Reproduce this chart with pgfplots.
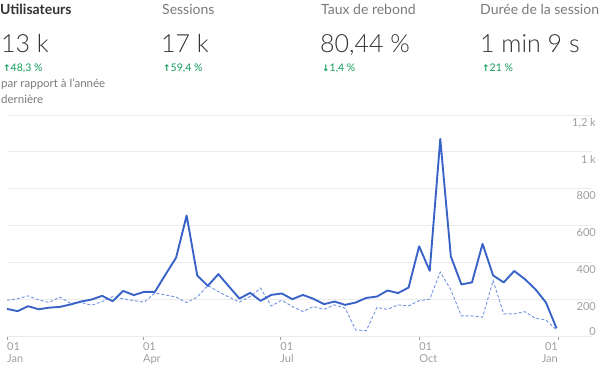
\documentclass[border=0pt]{standalone}
\usepackage{fontspec}
\setmainfont{Lato}
\newfontfamily\lightfont{Lato}[UprightFont={* Light}]
\newfontfamily\dejavu{DejaVu Sans}
\usepackage{pgfplots}
\pgfplotsset{compat=1.18}
\definecolor{solidblue}{HTML}{3A63C8}
\definecolor{dashblue}{HTML}{6E93E0}
\definecolor{gridc}{HTML}{EBEBEB}
\definecolor{lbl}{HTML}{9E9E9E}
\definecolor{hdr}{HTML}{7A7A7A}
\definecolor{dark}{HTML}{333333}
\definecolor{gr}{HTML}{0F9D58}
\begin{document}
\begin{tikzpicture}[x=1pt,y=1pt]
\path[use as bounding box] (0,0) rectangle (600,-369);
\begin{axis}[
  at={(7pt,-336pt)}, anchor=south west,
  scale only axis, width=585pt, height=221pt,
  xmin=0, xmax=387.5, ymin=0, ymax=1200,
  axis line style={draw=none},
  ymajorgrids, grid style={gridc, line width=0.8pt},
  ytick={200,400,600,800,1000,1200},
  yticklabels={200,400,600,800,1 k,{1,2 k}},
  yticklabel pos=right,
  ytick style={draw=none},
  yticklabel style={anchor=north east, inner sep=0pt, xshift=0pt, yshift=-3pt, font=\fontsize{11}{12}\selectfont, text=lbl},
  extra y ticks={0},
  extra y tick labels={0},
  extra y tick style={grid=major, yticklabel style={anchor=south east, yshift=3pt}},
  xtick={0,90,181,273},
  xticklabels={{01\\Jan},{01\\Apr},{01\\Jul},{01\\Oct}},
  xtick pos=bottom,
  tick align=outside,
  xtick style={lbl, line width=0.6pt},
  major tick length=4pt,
  xticklabel style={align=left, anchor=north west, inner sep=0pt, yshift=-2pt, font=\fontsize{11}{12}\selectfont, text=lbl},
  extra x ticks={365},
  extra x tick labels={{01\\Jan}},
  extra x tick style={xticklabel style={align=right, anchor=north east}},
  clip=false,
]
\addplot[dashblue, line width=0.9pt, dash pattern=on 3pt off 2pt] table[x=d, y=v] {
d v
0 194
7 202
14 218
21 196
28 182
35 211
42 178
49 182
56 167
63 187
70 214
77 202
84 192
91 184
98 234
105 223
112 211
119 182
126 211
133 274
140 241
147 211
154 184
161 214
168 260
175 163
182 194
189 160
196 133
203 160
210 145
217 169
224 151
231 33
238 29
245 154
252 145
259 169
266 163
273 192
280 200
287 347
294 251
301 109
308 109
315 102
322 301
329 120
336 120
343 132
350 96
357 87
364 33
};
\addplot[solidblue, line width=1.9pt, line join=round] table[x=d, y=v] {
d v
0 147
7 135
14 162
21 145
28 154
35 158
42 171
49 187
56 198
63 218
70 189
77 245
84 222
91 240
98 240
105 334
112 425
119 654
126 329
133 272
140 336
147 269
154 203
161 234
168 191
175 223
182 231
189 200
196 223
203 202
210 173
217 187
224 169
231 182
238 207
245 214
252 247
259 233
266 263
273 487
280 354
287 1070
294 432
301 280
308 291
315 500
322 329
329 291
336 353
343 309
350 254
357 182
364 42
};
\end{axis}
% header
\node[anchor=base west, inner sep=0, text=dark, font=\fontsize{14}{16}\selectfont\bfseries] at (0,-15) {Utilisateurs};
\node[anchor=base west, inner sep=0, text=hdr, font=\fontsize{14}{16}\selectfont] at (162,-15) {Sessions};
\node[anchor=base west, inner sep=0, text=hdr, font=\fontsize{14}{16}\selectfont] at (321,-15) {Taux de rebond};
\node[anchor=base west, inner sep=0, text=hdr, font=\fontsize{14}{16}\selectfont] at (480,-15) {Durée de la session};
\node[anchor=base west, inner sep=0, text=dark, font=\fontsize{25}{30}\lightfont] at (1,-53) {13 k};
\node[anchor=base west, inner sep=0, text=dark, font=\fontsize{25}{30}\lightfont] at (161,-53) {17 k};
\node[anchor=base west, inner sep=0, text=dark, font=\fontsize{25}{30}\lightfont] at (320,-53) {80,44 \%};
\node[anchor=base west, inner sep=0, text=dark, font=\fontsize{25}{30}\lightfont] at (480,-53) {1 min 9 s};
\node[anchor=base west, inner sep=0, text=gr, font=\fontsize{10.5}{12}\selectfont] at (3,-71) {{\dejavu\bfseries\fontsize{9}{10}\selectfont ↑}48,3 \%};
\node[anchor=base west, inner sep=0, text=gr, font=\fontsize{10.5}{12}\selectfont] at (163,-71) {{\dejavu\bfseries\fontsize{9}{10}\selectfont ↑}59,4 \%};
\node[anchor=base west, inner sep=0, text=gr, font=\fontsize{10.5}{12}\selectfont] at (322,-71) {{\dejavu\bfseries\fontsize{9}{10}\selectfont ↓}1,4 \%};
\node[anchor=base west, inner sep=0, text=gr, font=\fontsize{10.5}{12}\selectfont] at (482,-71) {{\dejavu\bfseries\fontsize{9}{10}\selectfont ↑}21 \%};
\node[anchor=base west, inner sep=0, text=hdr, font=\fontsize{11.5}{12}\selectfont] at (1,-88) {par rapport à l'année};
\node[anchor=base west, inner sep=0, text=hdr, font=\fontsize{11.5}{12}\selectfont] at (1,-103) {dernière};
\end{tikzpicture}
\end{document}
